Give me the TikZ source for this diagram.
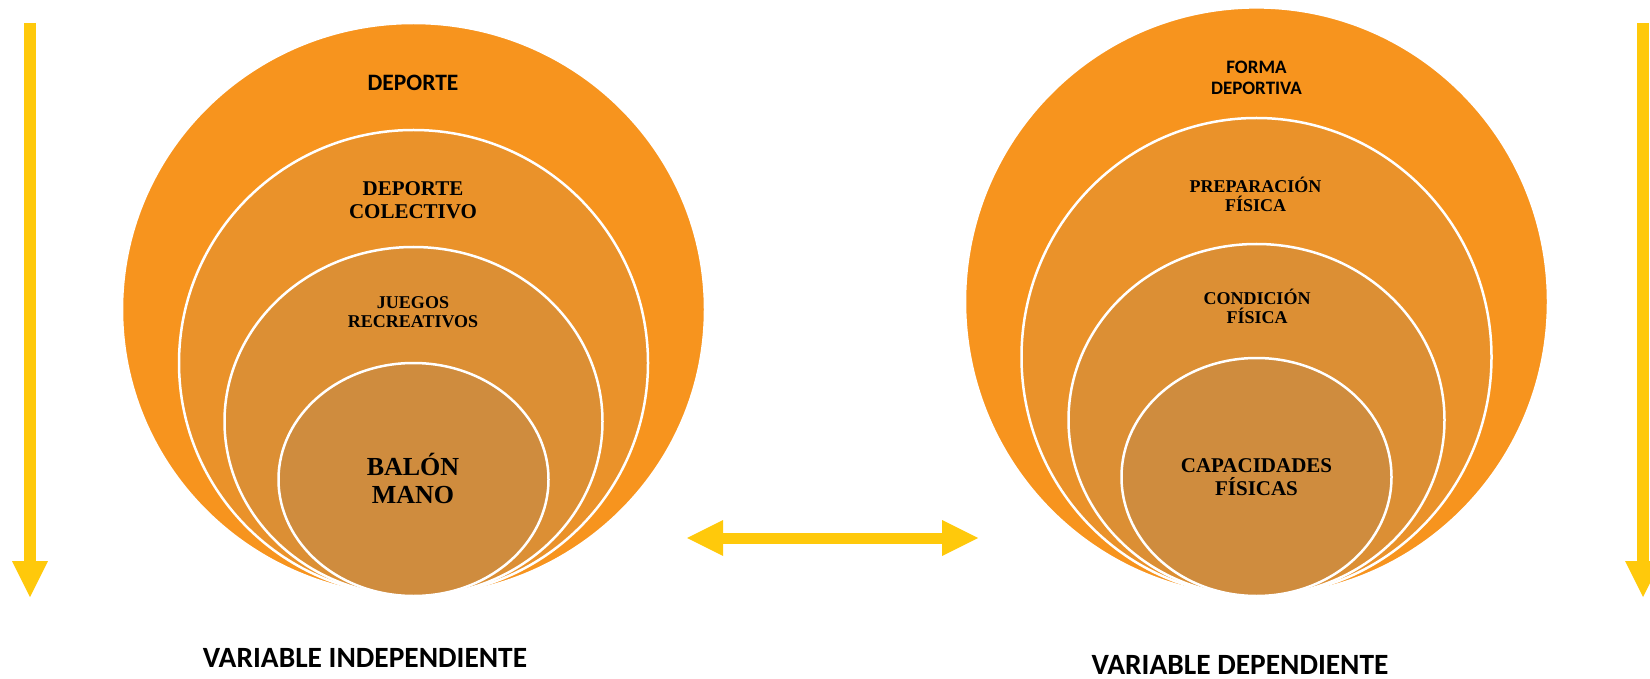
\documentclass[tikz,border=0pt]{standalone}
\usepackage{fontspec}
\setmainfont{Liberation Serif}
\newfontfamily\calibri{Carlito}
\usepackage{xcolor}
\usetikzlibrary{arrows.meta,
	positioning}
\definecolor{anilloA}{HTML}{F7941E}
\definecolor{anilloB}{HTML}{EA922A}
\definecolor{anilloC}{HTML}{DC8F34}
\definecolor{anilloD}{HTML}{CF8C3E}
\definecolor{amarillo}{HTML}{FFC90B}
\tikzset{
	anillo/.style={draw=white, line width=2.5pt},
	flecha/.style={draw=amarillo, line width=12pt, -{Triangle[width=36pt,length=36pt,line width=0pt]}},
	enlace/.style={draw=amarillo, line width=11pt, {Triangle[width=36pt,length=36pt,line width=0pt]}-{Triangle[width=36pt,length=36pt,line width=0pt]}},
	rotulo/.style 2 args={font=\calibri\bfseries\fontsize{#1}{#2}\selectfont, align=center, inner sep=0pt},
	letra/.style 2 args={font=\bfseries\fontsize{#1}{#2}\selectfont, align=center, inner sep=0pt}
}

\begin{document}
\begin{tikzpicture}[x=1pt, y=-1pt]
	\useasboundingbox (0,0) rectangle (1650,679);
	\foreach \rx/\ry/\col in {291.5/286.5/anilloA, 234.5/233/anilloB, 189/174.5/anilloC, 135/116.5/anilloD} {
		\pgfmathsetmacro{\cy}{596-\ry}
		\filldraw[anillo, fill=\col] (413.5,\cy) ellipse [x radius=\rx pt, y radius=\ry pt];
	}
	\foreach \rx/\ry/\col in {291.5/294.3/anilloA, 235/239/anilloB, 188/176/anilloC, 135/119/anilloD} {
		\pgfmathsetmacro{\cy}{596-\ry}
		\filldraw[anillo, fill=\col] (1256.5,\cy) ellipse [x radius=\rx pt, y radius=\ry pt];
	}

	\node[rotulo={23.5}{26}] (deporte) at (413,82.5) {DEPORTE};
	\node[letra={21}{22.5}] (colectivo) at (413,200) {DEPORTE\\COLECTIVO};
	\node[letra={18}{19}] (juegos) at (413,312.5) {JUEGOS\\RECREATIVOS};
	\node[letra={26}{27.5}] (balon) at (413,478.5) {BALÓN\\MANO};

	\node[rotulo={19}{21}] (forma) at (1256.5,78) {FORMA\\DEPORTIVA};
	\node[letra={18}{19}] (preparacion) at (1255.5,194) {PREPARACIÓN\\FÍSICA};
	\node[letra={18}{18.5}] (condicion) at (1257,306.5) {CONDICIÓN\\FÍSICA};
	\node[letra={21}{23}] (capacidades) at (1256.5,477.5) {CAPACIDADES\\FÍSICAS};

	\node[rotulo={29.4}{31}] (indep) at (365,658) {VARIABLE INDEPENDIENTE};
	\node[rotulo={29.4}{31}] (dep) at (1240,665) {VARIABLE DEPENDIENTE};

	\coordinate (izqA) at (30,23);
	\coordinate (izqB) at (30,597);
	\coordinate (derA) at (1643,23);
	\coordinate (derB) at (1643,597);
	\coordinate (enlaceI) at (687,538);
	\coordinate (enlaceD) at (978,538);
	\draw[flecha] (izqA) -- (izqB);
	\draw[flecha] (derA) -- (derB);
	\draw[enlace] (enlaceI) -- (enlaceD);
\end{tikzpicture}
\end{document}
